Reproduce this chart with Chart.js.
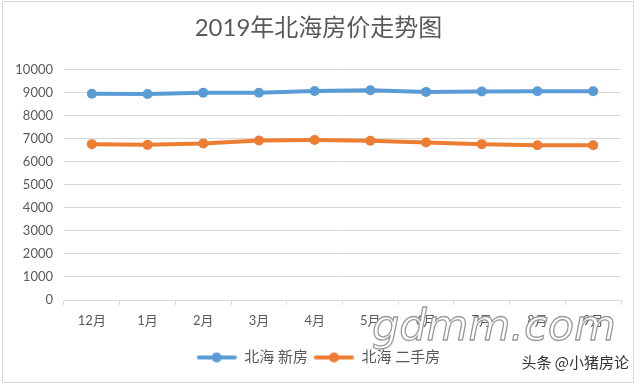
<!DOCTYPE html>
<html>
<head>
<meta charset="utf-8">
<script src="https://cdn.jsdelivr.net/npm/chart.js@4/dist/chart.umd.min.js"></script>
<style>
html,body{margin:0;padding:0;background:#fff;}
canvas{display:block;}
</style>
</head>
<body>
<canvas id="c" width="640" height="385"></canvas>
<script>
const titleText = '2019年北海房价走势图';
const categories = ['12月','1月','2月','3月','4月','5月','6月','7月','8月','9月'];
const seriesNames = ['北海 新房','北海 二手房'];
const newHouse = [8960, 8950, 9000, 9000, 9080, 9110, 9040, 9060, 9070, 9070];
const secondHand = [6770, 6740, 6800, 6930, 6950, 6920, 6840, 6770, 6720, 6720];
const yMin = 0, yMax = 10000, yStep = 1000;

const BLUE = '#5B9BD5', ORANGE = '#ED7D31', TXT = '#595959', GRID = '#d9d9d9';
const FONT = "Lato, 'Noto Sans CJK SC', sans-serif";

function legendIcon(color){
  const c = document.createElement('canvas');
  c.width = 40; c.height = 14;
  const x = c.getContext('2d');
  x.strokeStyle = color; x.lineWidth = 4; x.lineCap = 'round';
  x.beginPath(); x.moveTo(2,7); x.lineTo(38,7); x.stroke();
  x.fillStyle = color; x.beginPath(); x.arc(20,7,5,0,Math.PI*2); x.fill();
  return c;
}

const decor = {
  id: 'decor',
  beforeDraw(chart){
    const ctx = chart.ctx;
    ctx.save();
    ctx.fillStyle = '#fff';
    ctx.fillRect(0,0,chart.width,chart.height);
    ctx.strokeStyle = GRID; ctx.lineWidth = 1;
    ctx.strokeRect(2.5,1.5,631,381);
    ctx.restore();
  },
  afterDraw(chart){
    const ctx = chart.ctx;
    ctx.save();
    ctx.font = "italic 300 43px 'DejaVu Sans', sans-serif";
    ctx.textBaseline = 'alphabetic';
    ctx.textAlign = 'left';
    ctx.lineWidth = 1.3;
    ctx.strokeStyle = '#9a9a9a';
    ctx.fillStyle = 'rgba(255,255,255,0.95)';
    ctx.fillText('gdmm.com', 372, 340);
    ctx.strokeText('gdmm.com', 372, 340);
    ctx.font = "15px 'Noto Sans CJK SC', sans-serif";
    ctx.textAlign = 'right';
    ctx.textBaseline = 'middle';
    ctx.lineWidth = 3; ctx.strokeStyle = '#fff';
    ctx.strokeText('头条 @小猪房论', 629, 362);
    ctx.fillStyle = '#333';
    ctx.fillText('头条 @小猪房论', 629, 362);
    ctx.restore();
  }
};

new Chart(document.getElementById('c'), {
  type: 'line',
  data: {
    labels: categories,
    datasets: [
      {label: seriesNames[0], data: newHouse, borderColor: BLUE, backgroundColor: BLUE,
       borderWidth: 4, pointRadius: 5, pointHoverRadius: 5, pointBackgroundColor: BLUE, pointBorderWidth: 0, tension: 0},
      {label: seriesNames[1], data: secondHand, borderColor: ORANGE, backgroundColor: ORANGE,
       borderWidth: 4, pointRadius: 5, pointHoverRadius: 5, pointBackgroundColor: ORANGE, pointBorderWidth: 0, tension: 0}
    ]
  },
  options: {
    responsive: false,
    animation: false,
    events: [],
    layout: {padding: {left: 16, right: 19, top: 0, bottom: 10}},
    plugins: {
      title: {display: true, text: titleText, color: TXT,
              font: {family: FONT, size: 24, weight: 'normal'}, padding: {top: 14, bottom: 27}},
      legend: {position: 'bottom',
        labels: {usePointStyle: true, pointStyleWidth: 40, boxHeight: 14, color: TXT, padding: 6,
                 font: {family: FONT, size: 15},
                 generateLabels(chart){
                   return chart.data.datasets.map((d,i)=>({text: d.label, pointStyle: legendIcon(d.borderColor),
                     fillStyle: d.borderColor, strokeStyle: d.borderColor, lineWidth: 0, fontColor: TXT, datasetIndex: i, hidden: false}));
                 }}},
      tooltip: {enabled: false}
    },
    scales: {
      x: {offset: true,
          grid: {offset: true, drawOnChartArea: false, drawTicks: true, tickLength: 5, color: GRID},
          border: {display: true, color: GRID},
          ticks: {color: TXT, font: {family: FONT, size: 13}, padding: 8, maxRotation: 0},
          afterFit(s){ s.height = 44; }},
      y: {min: yMin, max: yMax,
          grid: {color: GRID, drawTicks: false},
          border: {display: false},
          ticks: {stepSize: yStep, color: TXT, font: {family: FONT, size: 13}, padding: 11,
                  callback: v => String(v)},
          afterFit(s){ s.width = 48; }}
    }
  },
  plugins: [decor]
});
</script>
</body>
</html>
